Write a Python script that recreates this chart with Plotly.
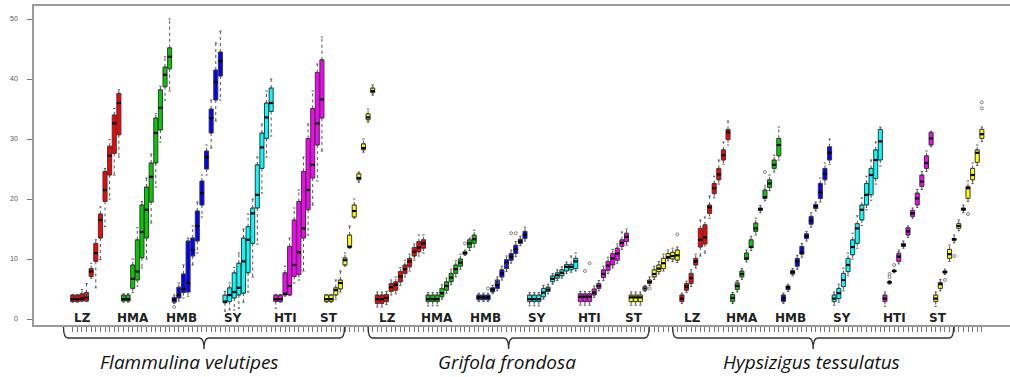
import plotly.graph_objects as go

SPECIES = ["Flammulina velutipes", "Grifola frondosa", "Hypsizigus tessulatus"]
STRAINS = ["LZ", "HMA", "HMB", "SY", "HTI", "ST"]
COLORS = ["#FF0000", "#00CD00", "#0000FF", "#00FFFF", "#FF00FF", "#FFFF00"]
N_DAYS = 11
Y_TICKS = [0, 10, 20, 30, 40, 50]

# ---- Flammulina velutipes (per strain: 11 time points) ----
FV_Q1 = [[2.9,2.9,3.0,3.0,7.1,9.6,13.5,19.6,24.0,27.6,30.7],
         [3.0,3.0,5.1,6.5,10.2,13.5,19.5,26.0,31.5,38.7,41.7],
         [2.8,3.5,4.4,4.5,10.5,13.0,19.0,25.0,31.0,36.5,40.5],
         [2.7,2.9,3.5,4.0,4.3,7.7,12.6,18.5,25.1,30.1,34.6],
         [2.9,2.9,4.0,4.0,7.1,7.4,13.5,18.2,23.5,29.0,33.5],
         [2.9,2.9,4.0,5.0,9.0,12.0,17.0,23.2,28.2,33.2,37.7]]
FV_MED = [[3.3,3.3,3.4,3.6,7.9,11.0,16.5,21.5,27.2,32.6,36.0],
          [3.3,3.3,6.7,7.9,14.5,18.2,23.7,31.0,35.2,40.7,43.7],
          [3.2,4.0,5.0,6.0,11.5,15.5,21.0,27.0,33.5,39.5,43.0],
          [2.9,4.0,4.5,5.2,9.6,13.2,17.6,20.7,28.6,33.6,36.0],
          [3.3,3.3,4.2,5.5,9.0,11.1,15.1,21.5,25.7,32.6,36.6],
          [3.3,3.3,4.8,6.0,9.8,12.0,18.0,23.5,28.5,33.6,38.0]]
FV_Q3 = [[4.0,4.0,4.2,4.4,8.4,12.6,17.5,24.6,28.8,34.0,37.6],
         [4.0,4.0,9.0,13.2,19.0,22.0,26.0,33.5,38.2,42.0,45.2],
         [3.6,5.3,7.5,13.0,13.5,18.0,23.0,28.0,35.0,41.5,44.5],
         [4.0,5.2,7.7,9.3,13.5,15.4,18.5,25.7,31.0,36.0,38.5],
         [4.0,4.0,7.7,12.1,16.5,19.6,24.6,30.1,35.1,41.1,43.2],
         [4.0,4.0,5.2,6.5,10.2,14.0,19.0,24.2,29.2,34.2,38.5]]
FV_LO = [[2.8,2.8,2.9,2.9,6.8,5.2,9.9,15.4,20.0,24.0,27.0],
         [2.8,2.8,4.4,5.5,8.5,10.0,16.0,22.0,29.5,36.5,38.0],
         [2.6,3.0,3.5,3.8,9.0,11.0,17.0,24.0,28.5,33.0,36.5],
         [1.3,1.5,1.5,1.8,2.8,4.5,7.0,12.5,21.0,27.0,30.5],
         [1.8,2.8,3.8,3.9,6.0,6.5,8.0,14.0,19.0,23.0,28.0],
         [2.8,2.8,3.3,4.5,8.8,11.8,16.8,22.8,27.8,32.8,37.3]]
FV_HI = [[4.1,4.1,4.9,5.9,9.3,13.2,18.7,25.1,29.9,35.1,38.2],
         [4.2,4.2,10.0,15.2,19.6,23.5,27.5,34.2,38.8,43.7,50.0],
         [4.0,6.0,9.0,13.5,15.5,19.5,24.0,29.0,36.5,46.0,48.0],
         [4.6,6.0,8.6,11.0,15.0,17.5,20.0,27.0,32.5,38.0,40.0],
         [4.1,4.1,8.8,13.5,18.5,21.5,27.0,32.5,38.0,42.5,47.0],
         [4.1,4.1,6.5,8.0,11.0,15.5,20.0,24.5,30.0,35.0,39.0]]

# ---- Grifola frondosa ----
GF_Q1 = [[2.6,2.6,2.9,4.6,4.8,6.2,7.6,8.7,10.5,11.2,11.8],
         [2.9,2.9,2.9,3.7,4.8,6.2,7.6,8.8,10.8,11.9,12.6],
         [3.2,3.2,3.2,4.5,5.1,7.0,8.4,9.8,10.9,12.6,13.4],
         [2.9,2.9,2.9,3.7,4.6,6.2,6.8,7.2,8.0,8.2,8.4],
         [2.9,2.9,2.9,4.0,5.1,6.9,8.1,9.0,9.8,12.1,12.9],
         [2.9,2.9,2.9,4.8,5.9,7.0,7.9,8.4,10.1,10.0,9.8]]
GF_MED = [[3.3,3.3,3.5,5.3,5.7,7.1,8.3,9.6,11.2,11.9,12.6],
          [3.3,3.3,3.3,4.3,5.5,6.9,8.3,9.4,11.0,12.6,13.3],
          [3.6,3.6,3.6,4.9,5.7,7.6,9.3,10.4,11.6,12.9,14.0],
          [3.3,3.3,3.3,4.4,4.9,6.7,7.3,7.7,8.7,8.7,9.6],
          [3.7,3.7,3.7,4.4,5.5,7.5,8.9,10.1,10.9,12.7,13.7],
          [3.6,3.6,3.6,5.1,6.2,7.5,8.4,9.3,10.3,10.5,10.6]]
GF_Q3 = [[4.0,4.0,4.1,5.9,6.2,7.9,9.0,10.1,11.9,12.9,13.2],
         [4.0,4.0,4.0,5.1,6.2,7.6,9.0,10.0,11.2,13.2,14.0],
         [4.0,4.0,4.0,5.2,6.5,8.2,9.9,10.9,12.3,13.3,14.6],
         [4.0,4.0,4.0,5.1,5.3,7.2,7.7,8.2,9.1,9.1,10.1],
         [4.2,4.2,4.2,5.0,5.9,8.2,9.6,10.9,11.8,13.2,14.3],
         [4.0,4.0,4.0,5.4,6.5,8.2,9.0,10.1,10.9,11.1,11.5]]
GF_LO = [[2.0,2.0,2.4,4.0,4.2,5.6,7.0,8.0,9.8,10.5,11.0],
         [2.2,2.2,2.2,3.3,4.3,5.7,7.0,8.3,10.6,11.4,12.0],
         [2.9,2.9,2.9,4.2,4.7,6.5,7.9,9.3,10.4,12.2,13.0],
         [2.2,2.2,2.2,3.3,4.2,5.8,6.4,6.8,7.6,7.8,8.0],
         [2.3,2.3,2.3,3.6,4.7,6.4,7.6,8.5,9.3,11.6,12.3],
         [2.3,2.3,2.3,4.6,5.6,6.6,7.5,8.0,9.7,9.6,9.4]]
GF_HI = [[4.5,4.5,4.6,6.5,7.0,8.6,9.8,10.8,12.5,14.0,14.0],
         [4.4,4.4,4.4,5.7,6.8,8.3,9.7,10.8,11.5,13.5,14.8],
         [4.3,4.3,4.3,5.6,7.0,8.8,10.5,11.5,12.9,13.8,15.3],
         [4.4,4.4,4.4,5.6,5.8,7.6,8.2,8.7,9.5,10.5,11.0],
         [4.6,4.6,4.6,5.5,6.4,8.8,10.3,11.6,12.5,14.5,15.0],
         [4.5,4.5,4.5,5.6,7.0,8.8,9.6,10.8,11.5,11.8,12.0]]

# ---- Hypsizigus tessulatus ----
HT_Q1 = [[2.9,4.8,5.9,9.0,12.0,12.5,17.6,20.9,23.2,26.5,29.9],
         [2.9,4.9,7.0,9.9,11.9,14.6,18.1,20.1,21.9,25.1,27.2],
         [2.9,4.9,7.5,8.8,10.8,13.4,15.8,18.4,20.1,23.2,26.5],
         [2.9,3.4,5.4,7.9,10.7,12.6,16.5,19.0,20.7,23.4,26.5],
         [2.9,6.0,7.9,9.6,12.1,14.0,17.1,19.0,22.1,25.1,29.0],
         [2.9,5.1,7.7,10.1,13.1,15.1,18.1,20.1,23.2,26.1,30.1]]
HT_MED = [[3.4,5.4,6.8,9.6,13.2,13.6,18.6,21.8,24.1,27.3,31.1],
          [3.5,5.5,7.5,10.1,12.0,15.1,18.3,20.3,22.6,25.7,29.0],
          [3.4,5.3,7.8,9.6,11.1,13.8,16.4,18.8,21.1,24.2,27.7],
          [3.4,4.3,6.5,9.0,12.0,15.1,18.2,20.7,24.0,26.5,29.6],
          [3.4,6.1,8.0,10.4,12.3,14.6,17.6,20.1,22.9,26.0,30.1],
          [3.4,5.8,7.8,10.8,13.3,15.5,18.3,21.8,24.0,27.7,30.8]]
HT_Q3 = [[4.0,5.9,7.6,10.1,15.1,15.7,19.0,22.6,25.1,28.2,31.6],
         [4.1,6.0,8.0,11.0,13.2,16.0,18.5,21.5,23.2,26.5,30.1],
         [4.0,5.5,8.1,10.1,12.1,14.2,17.1,19.1,22.6,25.1,28.7],
         [4.0,5.1,7.6,10.1,13.2,15.9,19.0,22.6,25.1,28.2,31.6],
         [4.0,6.2,8.1,10.9,12.6,15.2,18.1,21.0,24.0,27.2,31.1],
         [4.0,6.1,8.0,11.6,13.4,15.9,18.5,22.1,25.1,28.2,31.6]]
HT_LO = [[2.6,4.4,5.4,8.5,10.5,11.0,16.8,20.2,22.5,25.8,29.0],
         [2.6,4.5,6.6,9.5,11.4,14.0,17.7,19.7,21.4,24.5,26.5],
         [2.6,4.6,7.2,8.3,10.3,13.0,15.3,18.0,19.5,22.5,25.8],
         [2.3,2.8,4.7,7.2,10.0,11.8,15.6,18.2,19.8,22.5,25.5],
         [2.1,5.8,7.7,9.2,11.8,13.6,16.8,18.6,21.6,24.6,28.7],
         [2.1,4.7,7.4,9.6,12.7,14.7,17.7,19.6,22.6,25.6,29.6]]
HT_HI = [[4.3,6.3,8.2,10.8,16.5,17.0,20.5,23.8,26.5,29.5,33.0],
         [4.4,6.4,8.4,11.5,13.8,16.8,18.9,22.2,24.0,27.3,32.0],
         [4.3,5.8,8.4,10.6,12.6,14.6,17.7,19.5,23.5,26.0,30.0],
         [4.5,5.8,8.5,11.0,14.3,17.2,20.2,23.8,26.5,29.5,32.0],
         [4.5,6.4,8.3,11.5,13.0,15.5,18.5,21.6,24.6,28.0,31.3],
         [4.5,6.6,8.3,12.3,14.0,16.5,19.0,23.0,26.0,29.0,32.0]]

# outliers: global box position index and value
OUT_POS = [3, 22, 85, 90, 92, 94, 95, 96, 111, 112, 124, 125, 131,
           144, 150, 177, 177, 178, 179, 189, 191, 194, 197, 197]
OUT_VAL = [4.0, 2.0, 12.6, 5.1, 6.2, 9.0, 14.3, 14.3, 8.0, 9.3, 5.1, 5.1, 14.1,
           6.2, 24.5, 7.0, 7.5, 9.0, 11.0, 6.5, 10.5, 17.5, 35.1, 36.1]

Q1 = [FV_Q1, GF_Q1, HT_Q1]
MED = [FV_MED, GF_MED, HT_MED]
Q3 = [FV_Q3, GF_Q3, HT_Q3]
LO = [FV_LO, GF_LO, HT_LO]
HI = [FV_HI, GF_HI, HT_HI]

PER_SPECIES = len(STRAINS) * N_DAYS
BOX_W = 0.88
CAP_W = 0.25
LABEL_OFFSETS = [2.2, 13.0, 23.5, 34.7, 46.0, 55.6]
NAME_CENTERS = [25.2, 28.1, 28.1]

fig = go.Figure()
wx, wy, cx, cy, mx, my = [], [], [], [], [], []
for s in range(len(SPECIES)):
    for k in range(len(STRAINS)):
        xs = [s * PER_SPECIES + k * N_DAYS + d for d in range(N_DAYS)]
        q1, md, q3 = Q1[s][k], MED[s][k], Q3[s][k]
        lo, hi = LO[s][k], HI[s][k]
        for i, x in enumerate(xs):
            wx += [x, x, None, x, x, None]
            wy += [q3[i], hi[i], None, q1[i], lo[i], None]
            cx += [x - CAP_W, x + CAP_W, None, x - CAP_W, x + CAP_W, None]
            cy += [hi[i], hi[i], None, lo[i], lo[i], None]
            mx += [x - BOX_W / 2, x + BOX_W / 2, None]
            my += [md[i], md[i], None]
        fig.add_trace(go.Box(
            x=xs, q1=q1, median=md, q3=q3, lowerfence=q1, upperfence=q3,
            width=BOX_W, fillcolor=COLORS[k],
            line=dict(color="#3a3a3a", width=1),
            boxpoints=False, showlegend=False, hoverinfo="skip"))

fig.add_trace(go.Scatter(x=wx, y=wy, mode="lines",
                         line=dict(color="#555", width=1, dash="dot"),
                         showlegend=False, hoverinfo="skip"))
fig.add_trace(go.Scatter(x=cx, y=cy, mode="lines",
                         line=dict(color="#555", width=1),
                         showlegend=False, hoverinfo="skip"))
fig.add_trace(go.Scatter(x=mx, y=my, mode="lines",
                         line=dict(color="#000", width=2.2),
                         showlegend=False, hoverinfo="skip"))
fig.add_trace(go.Scatter(x=OUT_POS, y=OUT_VAL, mode="markers",
                         marker=dict(symbol="circle-open", size=3,
                                     color="#666", line=dict(width=0.8)),
                         showlegend=False, hoverinfo="skip"))

# plot area geometry (pixels)
TOP, BOTTOM = 6, 325
H = BOTTOM - TOP
def py(px):
    return (BOTTOM - px) / H

annotations = []
shapes = []
for s, name in enumerate(SPECIES):
    base = s * PER_SPECIES
    for k, st in enumerate(STRAINS):
        annotations.append(dict(
            x=base + LABEL_OFFSETS[k], y=0.25, xref="x", yref="y",
            text=f"<b>{st}</b>", showarrow=False, xanchor="center", yanchor="middle",
            font=dict(family="DejaVu Sans", size=12, color="#222")))
    xl, xr = base - 2.0, base + 58.9
    xc = (xl + xr) / 2
    y0, y1, y2 = py(327), py(338), py(349)
    d = 1.0
    path = (f"M {xl},{y0} Q {xl},{y1} {xl + d},{y1} L {xc - d},{y1} "
            f"Q {xc},{y1} {xc},{y2} Q {xc},{y1} {xc + d},{y1} "
            f"L {xr - d},{y1} Q {xr},{y1} {xr},{y0}")
    shapes.append(dict(type="path", path=path, xref="x", yref="paper",
                       line=dict(color="#333", width=1.4)))
    annotations.append(dict(
        x=base + NAME_CENTERS[s], y=py(362), xref="x", yref="paper",
        text=f"<i>{name}</i>", showarrow=False,
        xanchor="center", yanchor="middle",
        font=dict(family="Open Sans", size=19, color="#111")))

n_total = len(SPECIES) * PER_SPECIES
fig.update_layout(
    width=1010, height=377,
    margin=dict(l=34, r=0, t=TOP, b=377 - BOTTOM),
    paper_bgcolor="white", plot_bgcolor="white",
    boxmode="overlay", showlegend=False,
    annotations=annotations, shapes=shapes,
    xaxis=dict(range=[-8.39, 203.1], showgrid=False, zeroline=False,
               showline=True, mirror=True, linecolor="#999", linewidth=1.5,
               tickmode="array", tickvals=list(range(n_total)),
               ticks="outside", ticklen=5, tickwidth=1, tickcolor="#777",
               showticklabels=False),
    yaxis=dict(range=[-1.0, 52.17], showgrid=False, zeroline=False,
               showline=True, linecolor="#999", linewidth=1.5,
               tickmode="array", tickvals=Y_TICKS,
               ticks="outside", ticklen=5, tickcolor="#777",
               ticklabelstandoff=8,
               tickfont=dict(size=7, color="#555", family="Liberation Sans")),
)

fig.write_html("out.html")
